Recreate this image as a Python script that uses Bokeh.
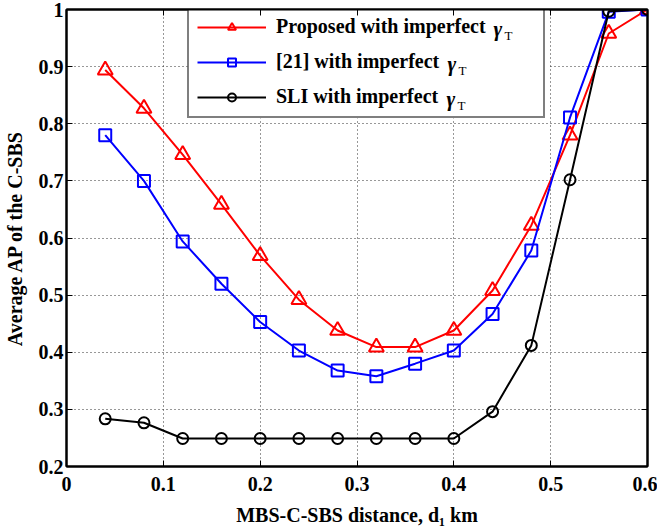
from bokeh.plotting import figure
from bokeh.models import (Range1d, FixedTicker, LinearAxis, Legend, LegendItem)
from bokeh.core.properties import value
from bokeh.embed import file_html
from bokeh.resources import INLINE

# ---- data ----
distance_km = [0.04, 0.08, 0.12, 0.16, 0.20, 0.24, 0.28, 0.32, 0.36, 0.40, 0.44, 0.48, 0.52, 0.56, 0.60]
proposed = [0.894, 0.827, 0.746, 0.659, 0.569, 0.492, 0.438, 0.409, 0.409, 0.438, 0.508, 0.622, 0.780, 0.958, 1.0]
ref21 = [0.780, 0.700, 0.594, 0.520, 0.453, 0.403, 0.368, 0.358, 0.380, 0.403, 0.467, 0.578, 0.811, 0.996, 1.0]
sli = [0.2835, 0.2765, 0.249, 0.249, 0.249, 0.249, 0.249, 0.249, 0.249, 0.249, 0.296, 0.412, 0.702, 0.997, 1.0]

x_ticks = [0.0, 0.1, 0.2, 0.3, 0.4, 0.5, 0.6]
x_tick_labels = ["0", "0.1", "0.2", "0.3", "0.4", "0.5", "0.6"]
y_ticks = [0.2, 0.3, 0.4, 0.5, 0.6, 0.7, 0.8, 0.9, 1.0]
y_tick_labels = ["0.2", "0.3", "0.4", "0.5", "0.6", "0.7", "0.8", "0.9", "1"]

series_labels = ["Proposed with imperfect", "[21] with imperfect", "SLI with imperfect"]
symbol_main = "\u03b3"
symbol_sub = "T"
x_title = "MBS-C-SBS distance, d\u2081 km"
y_title = "Average AP of the C-SBS"

FONT = "Liberation Serif"

# frame placement (canvas px)
FL, FR, FT, FB = 66, 647, 9, 466
W, H = 657, 529
X0, X1, Y0, Y1 = 0.0, 0.6, 0.2, 1.0

p = figure(width=W, height=H, output_backend="svg", toolbar_location=None,
           x_range=Range1d(X0, X1), y_range=Range1d(Y0, Y1),
           min_border_left=FL, min_border_right=W - FR,
           min_border_top=FT, min_border_bottom=H - FB)
p.background_fill_color = "white"
p.border_fill_color = "white"
p.outline_line_color = "black"
p.outline_line_width = 2

def style_axis(ax, ticks, labels, show_labels=True):
    ax.ticker = FixedTicker(ticks=ticks)
    ax.axis_line_color = "black"
    ax.axis_line_width = 2
    ax.major_tick_in = 6
    ax.major_tick_out = 0
    ax.major_tick_line_width = 1
    ax.major_tick_line_color = "black"
    ax.minor_tick_line_color = None
    ax.major_label_text_font = FONT
    ax.major_label_text_font_style = "bold"
    ax.major_label_text_color = "black"
    if show_labels:
        ax.major_label_overrides = {t: l for t, l in zip(ticks, labels)}
        ax.major_label_text_font_size = "20px"
    else:
        ax.major_label_overrides = {t: "" for t in ticks}
        ax.major_label_text_font_size = "1px"
        ax.major_label_standoff = 0

style_axis(p.xaxis[0], x_ticks, x_tick_labels)
p.xaxis[0].major_label_standoff = 10
p.xaxis[0].axis_label = x_title
p.xaxis[0].axis_label_text_font = FONT
p.xaxis[0].axis_label_text_font_style = "bold"
p.xaxis[0].axis_label_text_font_size = "20px"
p.xaxis[0].axis_label_text_color = "black"
p.xaxis[0].axis_label_standoff = 10

style_axis(p.yaxis[0], y_ticks, y_tick_labels)
p.yaxis[0].major_label_standoff = 3
p.yaxis[0].axis_label = y_title
p.yaxis[0].axis_label_text_font = FONT
p.yaxis[0].axis_label_text_font_style = "bold"
p.yaxis[0].axis_label_text_font_size = "20px"
p.yaxis[0].axis_label_text_color = "black"
p.yaxis[0].axis_label_standoff = 10

top_ax = LinearAxis()
style_axis(top_ax, x_ticks, x_tick_labels, show_labels=False)
p.add_layout(top_ax, "above")
right_ax = LinearAxis()
style_axis(right_ax, y_ticks, y_tick_labels, show_labels=False)
p.add_layout(right_ax, "right")

p.xgrid.ticker = FixedTicker(ticks=x_ticks)
p.ygrid.ticker = FixedTicker(ticks=y_ticks)
for g in (p.xgrid[0], p.ygrid[0]):
    g.grid_line_color = "#303030"
    g.grid_line_dash = "1 3"
    g.grid_line_width = 1

colors = ["#ff0000", "#0000ff", "#000000"]
markers = ["triangle", "square", "circle"]
sizes = [15, 12, 11]
items = []
for ys, c, m, s, lab in zip([proposed, ref21, sli], colors, markers, sizes, series_labels):
    lr = p.line(distance_km, ys, line_color=c, line_width=2)
    sr = p.scatter(distance_km, ys, marker=m, size=s, line_color=c, line_width=2,
                   fill_color=None)
    items.append(LegendItem(label=lab, renderers=[lr, sr]))

# helpers: canvas pixel -> frame scale (for legend decoration only)
def px_x(cx):
    return X0 + (cx - FL) / (FR - FL) * (X1 - X0)

def px_y(cy):
    return Y0 + (FB - cy) / (FB - FT) * (Y1 - Y0)

LEG_L, LEG_R, LEG_T, LEG_B = 187, 549, 9, 118

# white backing of the legend box (covers the grid)
p.quad(left=[px_x(LEG_L)], right=[px_x(LEG_R)], top=[px_y(LEG_T)], bottom=[px_y(LEG_B)],
       fill_color="white", line_color=None)

# legend symbol gamma_T (italic gamma with subscript T)
gamma_px = [493, 447, 446]
row_px = [28.5, 63.5, 98.5]
p.text(x=[px_x(g) for g in gamma_px], y=[px_y(r - 0.5) for r in row_px],
       text=[symbol_main] * 3, text_font=value(FONT),
       text_font_style=value("bold italic"), text_font_size=value("21px"),
       text_color="black", text_baseline="middle", text_align="left")
p.text(x=[px_x(g + 11) for g in gamma_px], y=[px_y(r + 6) for r in row_px],
       text=[symbol_sub] * 3, text_font=value(FONT),
       text_font_style=value("normal"), text_font_size=value("13px"),
       text_color="black", text_baseline="middle", text_align="left")

legend = Legend(items=items, location=(LEG_L - FL, FB - LEG_B),
                padding=8, spacing=12, glyph_height=20, glyph_width=69,
                label_height=20, label_width=259, label_standoff=10,
                label_text_font=FONT, label_text_font_style="bold",
                label_text_font_size="20px", label_text_color="black",
                label_text_baseline="middle",
                border_line_color="black", border_line_width=2,
                background_fill_color="white", background_fill_alpha=0.0,
                margin=0)
p.add_layout(legend, "center")

open("out.html", "w").write(file_html(p, INLINE))
